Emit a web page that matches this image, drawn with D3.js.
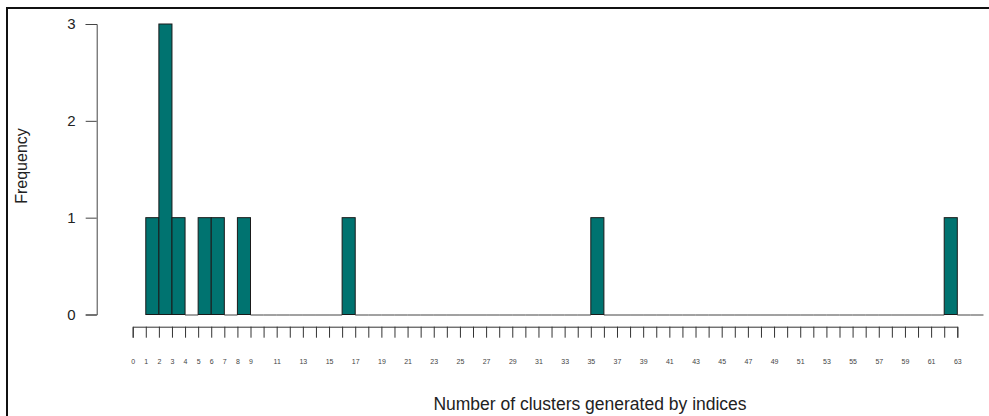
<!DOCTYPE html>
<html>
<head>
<meta charset="utf-8">
<script src="https://cdn.jsdelivr.net/npm/d3@7"></script>
<style>
  html, body { margin: 0; padding: 0; background: #fff; }
  svg { display: block; font-family: "Liberation Sans", Arial, Helvetica, sans-serif; }
</style>
</head>
<body>
<svg id="chart" width="989" height="416"></svg>
<script>
// Histogram of the number of clusters proposed by each index (unit-width bins).
const binLower = [1, 2, 3, 4, 5, 6, 7, 8, 9, 10, 11, 12, 13, 14, 15, 16, 17, 18, 19, 20,
  21, 22, 23, 24, 25, 26, 27, 28, 29, 30, 31, 32, 33, 34, 35, 36, 37, 38, 39, 40,
  41, 42, 43, 44, 45, 46, 47, 48, 49, 50, 51, 52, 53, 54, 55, 56, 57, 58, 59, 60,
  61, 62, 63, 64];
const frequency = [1, 3, 1, 0, 1, 1, 0, 1, 0, 0, 0, 0, 0, 0, 0, 1, 0, 0, 0, 0,
  0, 0, 0, 0, 0, 0, 0, 0, 0, 0, 0, 0, 0, 0, 1, 0, 0, 0, 0, 0,
  0, 0, 0, 0, 0, 0, 0, 0, 0, 0, 0, 0, 0, 0, 0, 0, 0, 0, 0, 0,
  0, 1, 0, 0];
const binWidth = 1;

// x-axis: a tick at every integer, labelled where space allows
const xTickValues = d3.range(0, 64);
const xTickLabels = ["0", "1", "2", "3", "4", "5", "6", "7", "8", "9",
  "11", "13", "15", "17", "19", "21", "23", "25", "27", "29", "31", "33", "35",
  "37", "39", "41", "43", "45", "47", "49", "51", "53", "55", "57", "59", "61", "63"];
const yTickValues = [0, 1, 2, 3];

const xLabel = "Number of clusters generated by indices";
const yLabel = "Frequency";

const svg = d3.select("#chart");

const x = d3.scaleLinear().domain([0, 63]).range([132.7, 957.3]);
const y = d3.scaleLinear().domain([0, 3]).range([314.5, 24]);

const bins = binLower.map((lo, i) => ({ lo, hi: lo + binWidth, n: frequency[i] }));

// outer frame
svg.append("path")
  .attr("d", "M7,416 L7,8 L989,8")
  .attr("fill", "none")
  .attr("stroke", "#111")
  .attr("stroke-width", 2);

// empty bins collapse onto the baseline
svg.append("g")
  .selectAll("line")
  .data(bins.filter(d => d.n === 0))
  .join("line")
  .attr("x1", d => x(d.lo))
  .attr("x2", d => x(d.hi))
  .attr("y1", y(0) + 0.5)
  .attr("y2", y(0) + 0.5)
  .attr("stroke", "#444")
  .attr("stroke-width", 1);

// bars
svg.append("g")
  .selectAll("rect")
  .data(bins.filter(d => d.n > 0))
  .join("rect")
  .attr("x", d => x(d.lo))
  .attr("y", d => y(d.n))
  .attr("width", d => x(d.hi) - x(d.lo))
  .attr("height", d => y(0) - y(d.n))
  .attr("fill", "#007370")
  .attr("stroke", "#1a1a1a")
  .attr("stroke-width", 1);

// y axis
const yAxis = svg.append("g")
  .attr("transform", "translate(96.7,0)")
  .call(d3.axisLeft(y).tickValues(yTickValues).tickFormat(d3.format("d"))
    .tickSizeOuter(0).tickSize(11).tickPadding(10));
yAxis.select(".domain").attr("stroke", "#444");
yAxis.selectAll(".tick line").attr("stroke", "#444");
yAxis.selectAll(".tick text").attr("font-size", 15).attr("fill", "#222")
  .attr("font-family", "Liberation Sans, Arial, sans-serif");

// x axis
const xAxis = svg.append("g")
  .attr("transform", "translate(0,326.7)")
  .call(d3.axisBottom(x).tickValues(xTickValues)
    .tickFormat(d => xTickLabels.includes(String(d)) ? String(d) : "")
    .tickSizeOuter(0).tickSize(11).tickPadding(21));
xAxis.select(".domain").attr("stroke", "#333");
xAxis.selectAll(".tick line").attr("stroke", "#333");
xAxis.selectAll(".tick text").attr("font-size", 7).attr("fill", "#444")
  .attr("font-family", "Liberation Sans, Arial, sans-serif");

// axis titles
svg.append("text")
  .attr("x", 590)
  .attr("y", 410)
  .attr("text-anchor", "middle")
  .attr("font-size", 17.5)
  .attr("fill", "#222")
  .text(xLabel);

svg.append("text")
  .attr("transform", "translate(27,166) rotate(-90)")
  .attr("text-anchor", "middle")
  .attr("font-size", 16)
  .attr("fill", "#222")
  .text(yLabel);
</script>
</body>
</html>
